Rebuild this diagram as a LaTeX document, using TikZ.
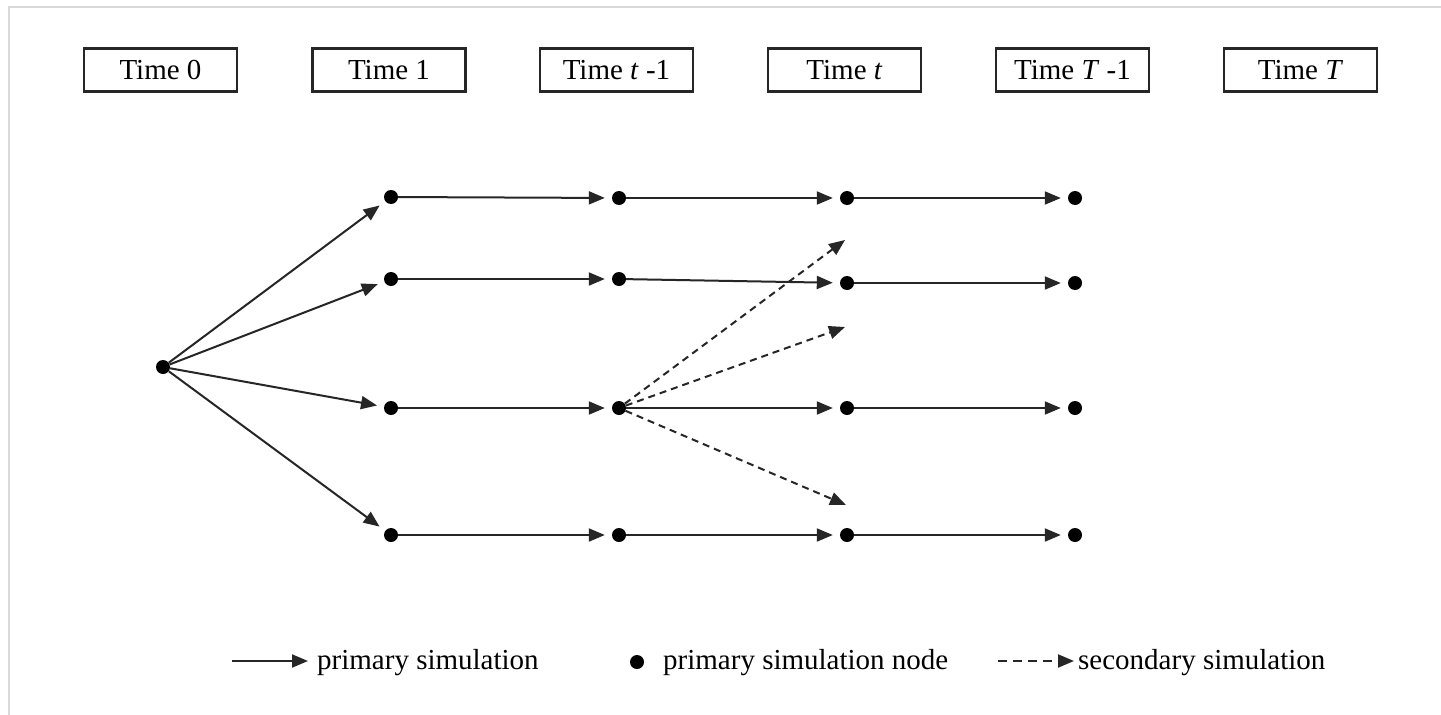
\documentclass[tikz,border=0pt]{standalone}
\usepackage{fontspec}
\setmainfont{Liberation Serif}
\usetikzlibrary{arrows.meta}
\begin{document}
\begin{tikzpicture}[x=1pt,y=-1pt,
  timebox/.style={draw=black!85,line width=2.2pt,minimum width=153pt,minimum height=43pt,inner sep=0pt,font=\fontsize{29}{33}\selectfont},
  dot/.style={circle,fill=black,inner sep=0pt,minimum size=14pt},
  prim/.style={line width=2pt,draw=black!85,-{Triangle[length=16pt,width=13pt]},shorten >=7pt},
  sec/.style={line width=2pt,draw=black!85,dash pattern=on 7pt off 5pt,-{Triangle[length=16pt,width=13pt]}},
  legtext/.style={anchor=base west,inner sep=0pt,font=\fontsize{29}{33}\selectfont}]
\useasboundingbox (0,0) rectangle (1441,715);
\fill[white] (0,0) rectangle (1441,715);
\draw[black!15,line width=2pt] (1441,7) -- (9,7) -- (9,715);
% time boxes
\node[timebox] (t0) at (160.5,70) {Time 0};
\node[timebox] (t1) at (389,70) {Time 1};
\node[timebox] (t2) at (616.5,70) {Time \textit{t} -1};
\node[timebox] (t3) at (844.5,70) {Time \textit{t}};
\node[timebox] (t4) at (1072.5,70) {Time \textit{T} -1};
\node[timebox] (t5) at (1300.5,70) {Time \textit{T}};
% dots
\node[dot] (r) at (163,367) {};
\node[dot] (a1) at (391,197) {};
\node[dot] (a2) at (619,198) {};
\node[dot] (a3) at (847,198) {};
\node[dot] (a4) at (1075,198) {};
\node[dot] (b1) at (391,279) {};
\node[dot] (b2) at (619,279) {};
\node[dot] (b3) at (847,283) {};
\node[dot] (b4) at (1075,283) {};
\node[dot] (c1) at (391,408) {};
\node[dot] (c2) at (619,408) {};
\node[dot] (c3) at (847,408) {};
\node[dot] (c4) at (1075,408) {};
\node[dot] (d1) at (391,535) {};
\node[dot] (d2) at (619,535) {};
\node[dot] (d3) at (847,535) {};
\node[dot] (d4) at (1075,535) {};
% root arrows
\draw[prim] (r) -- (a1);
\draw[prim] (r) -- (b1);
\draw[prim] (r) -- (c1);
\draw[prim] (r) -- (d1);
% horizontal arrows
\foreach \p/\q in {a1/a2,a2/a3,a3/a4,b1/b2,b2/b3,b3/b4,c1/c2,c2/c3,c3/c4,d1/d2,d2/d3,d3/d4}
  \draw[prim] (\p) -- (\q);
% secondary simulations
\coordinate (s1) at (845,240);
\coordinate (s2) at (845,327);
\coordinate (s3) at (846,505);
\draw[sec] (c2) -- (s1);
\draw[sec] (c2) -- (s2);
\draw[sec] (c2) -- (s3);
% legend
\coordinate (l1a) at (232,661);
\coordinate (l1b) at (308,661);
\draw[prim,shorten >=0pt] (l1a) -- (l1b);
\node[legtext] (l1t) at (317,669) {primary simulation};
\node[dot] (l2d) at (637,662) {};
\node[legtext] (l2t) at (663,669) {primary simulation node};
\coordinate (l3a) at (998,661);
\coordinate (l3b) at (1074,661);
\draw[sec,dash pattern=on 9pt off 6pt] (l3a) -- (l3b);
\node[legtext] (l3t) at (1078,669) {secondary simulation};
\end{tikzpicture}
\end{document}
